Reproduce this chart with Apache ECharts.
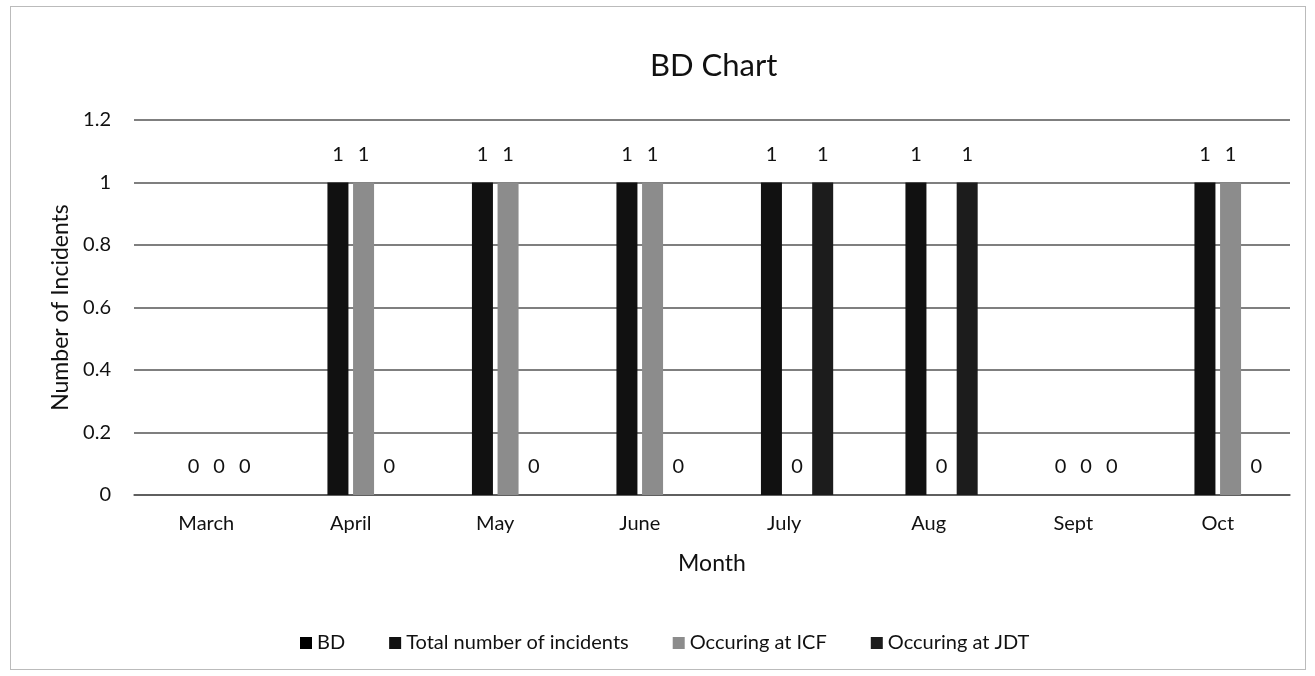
<!DOCTYPE html>
<html>
<head>
<meta charset="utf-8">
<script src="https://cdn.jsdelivr.net/npm/echarts@6/dist/echarts.min.js"></script>
<style>
  html, body { margin: 0; padding: 0; background: #fff; }
  #chart { position: absolute; left: 10px; top: 6px; width: 1294px; height: 662px; border: 1px solid #bbb; }
</style>
</head>
<body>
<div id="chart"></div>
<script>
// month categories
var months = ['March', 'April', 'May', 'June', 'July', 'Aug', 'Sept', 'Oct']
// BD series has no values in the picture
var bd = [null, null, null, null, null, null, null, null]
var totalIncidents = [0, 1, 1, 1, 1, 1, 0, 1]
var atICF = [0, 1, 1, 1, 0, 0, 0, 1]
var atJDT = [0, 0, 0, 0, 1, 1, 0, 0]

var font = 'Lato, "Open Sans", sans-serif'
var chart = echarts.init(document.getElementById('chart'))

function barSeries (name, data, color) {
  return {
    name: name,
    type: 'bar',
    data: data,
    barWidth: 21,
    barGap: '22%',
    itemStyle: { color: color },
    label: {
      show: true,
      position: 'top',
      distance: 18,
      color: '#111',
      fontSize: 20,
      fontFamily: font
    }
  }
}

chart.setOption({
  animation: false,
  title: {
    text: 'BD Chart',
    left: 634,
    top: 38,
    textStyle: { fontFamily: font, fontSize: 31, fontWeight: 'normal', color: '#111' }
  },
  legend: {
    top: 621,
    left: 284,
    itemWidth: 12,
    itemHeight: 12,
    itemGap: 44,
    icon: 'rect',
    textStyle: { fontFamily: font, fontSize: 20, color: '#111' },
    data: ['BD', 'Total number of incidents', 'Occuring at ICF', 'Occuring at JDT']
  },
  grid: {
    left: 123,
    right: 15,
    top: 113,
    bottom: 174
  },
  xAxis: {
    type: 'category',
    data: months,
    name: 'Month',
    nameLocation: 'middle',
    nameGap: 57,
    nameTextStyle: { fontFamily: font, fontSize: 23, color: '#111' },
    axisTick: { show: false },
    axisLine: { lineStyle: { color: '#555', width: 1.5 } },
    axisLabel: { fontFamily: font, fontSize: 20, color: '#111', margin: 19 }
  },
  yAxis: {
    type: 'value',
    min: 0,
    max: 1.2,
    interval: 0.2,
    name: 'Number of Incidents',
    nameLocation: 'middle',
    nameGap: 58,
    nameTextStyle: { fontFamily: font, fontSize: 23, color: '#111' },
    axisLine: { show: false },
    axisTick: { show: false },
    splitLine: { lineStyle: { color: '#555', width: 1.5 } },
    axisLabel: {
      fontFamily: font,
      fontSize: 20,
      color: '#111',
      margin: 23,
      formatter: function (v) { return String(Math.round(v * 10) / 10) }
    }
  },
  series: [
    barSeries('BD', bd, '#000'),
    barSeries('Total number of incidents', totalIncidents, '#111'),
    barSeries('Occuring at ICF', atICF, '#8c8c8c'),
    barSeries('Occuring at JDT', atJDT, '#1c1c1c')
  ]
})
</script>
</body>
</html>
